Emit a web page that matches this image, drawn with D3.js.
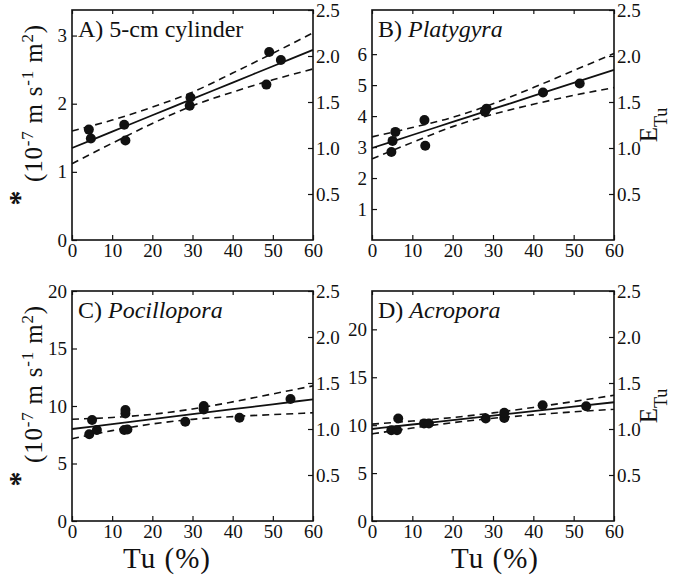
<!DOCTYPE html>
<html>
<head>
<meta charset="utf-8">
<script src="https://cdn.jsdelivr.net/npm/d3@7"></script>
<style>
  body { margin: 0; background: #fff; }
  .tick line { stroke: #111; stroke-width: 1.2; }
</style>
</head>
<body>
<script>
const serif = "'Liberation Serif'";

// Tu (%) grid used for the fit line and the confidence bands
const tuGrid = [0, 10, 20, 30, 40, 50, 60];

// A) 5-cm cylinder
const aTu = [4.2, 4.7, 13.0, 13.3, 29.3, 29.5, 48.4, 49.1, 52.0];
const aVal = [1.62, 1.49, 1.69, 1.46, 1.97, 2.09, 2.28, 2.76, 2.64];
const aFit = [1.35, 1.59, 1.83, 2.07, 2.31, 2.55, 2.79];
const aUpper = [1.60, 1.76, 1.95, 2.17, 2.45, 2.74, 3.04];
const aLower = [1.12, 1.42, 1.71, 1.97, 2.17, 2.35, 2.51];

// B) Platygyra
const bTu = [4.8, 5.1, 5.8, 13.0, 13.2, 28.0, 28.4, 42.4, 51.5];
const bVal = [2.84, 3.20, 3.49, 3.87, 3.04, 4.14, 4.24, 4.76, 5.05];
const bFit = [2.97, 3.39, 3.81, 4.23, 4.65, 5.07, 5.49];
const bUpper = [3.33, 3.63, 3.96, 4.40, 4.92, 5.47, 6.02];
const bLower = [2.62, 3.15, 3.66, 4.06, 4.38, 4.67, 4.92];

// C) Pocillopora
const cTu = [4.3, 5.0, 6.2, 13.0, 13.3, 13.3, 13.8, 28.2, 32.8, 32.8, 41.7, 54.4];
const cVal = [7.54, 8.78, 7.91, 7.91, 9.35, 9.65, 7.95, 8.63, 9.7, 10.0, 8.98, 10.61];
const cFit = [8.0, 8.43, 8.86, 9.29, 9.72, 10.15, 10.58];
const cUpper = [8.85, 9.0, 9.28, 9.74, 10.36, 11.05, 11.75];
const cLower = [7.15, 7.86, 8.44, 8.84, 9.08, 9.25, 9.41];

// D) Acropora
const dTu = [4.8, 6.2, 6.5, 12.9, 14.1, 28.2, 32.8, 32.8, 42.3, 53.1];
const dVal = [9.48, 9.48, 10.70, 10.18, 10.18, 10.70, 10.75, 11.3, 12.08, 11.98];
const dFit = [9.6, 10.07, 10.53, 11.0, 11.46, 11.93, 12.39];
const dUpper = [10.11, 10.43, 10.80, 11.28, 11.85, 12.47, 13.12];
const dLower = [9.09, 9.70, 10.26, 10.72, 11.07, 11.39, 11.66];

// tick labels
const xTicks = [0, 10, 20, 30, 40, 50, 60];
const eTicks = [0.5, 1.0, 1.5, 2.0, 2.5];

const panels = [
  {letter: 'A)', name: '5-cm cylinder', italic: false, tu: aTu, val: aVal, fit: aFit, up: aUpper, lo: aLower,
   yMax: 3.375, yTicks: [0, 1, 2, 3], box: [72, 313, 10, 240], col: 0, row: 0},
  {letter: 'B)', name: 'Platygyra', italic: true, tu: bTu, val: bVal, fit: bFit, up: bUpper, lo: bLower,
   yMax: 7.425, yTicks: [1, 2, 3, 4, 5, 6], box: [372, 614, 10, 240], col: 1, row: 0},
  {letter: 'C)', name: 'Pocillopora', italic: true, tu: cTu, val: cVal, fit: cFit, up: cUpper, lo: cLower,
   yMax: 20, yTicks: [0, 5, 10, 15, 20], box: [72, 313, 291, 521], col: 0, row: 1},
  {letter: 'D)', name: 'Acropora', italic: true, tu: dTu, val: dVal, fit: dFit, up: dUpper, lo: dLower,
   yMax: 24, yTicks: [0, 5, 10, 15, 20], box: [372, 614, 291, 521], col: 1, row: 1}
];

const svg = d3.select('body').append('svg')
  .attr('width', 685)
  .attr('height', 575);

function styleAxis(a) {
  a.attr('font-family', null).attr('font-size', null);
  a.select('.domain').remove();
  a.selectAll('.tick text')
    .style('font-family', serif)
    .style('font-size', '19px')
    .attr('fill', '#111');
}

panels.forEach(p => {
  const [x0, x1, y0, y1] = p.box;
  const x = d3.scaleLinear().domain([0, 60]).range([x0, x1]);
  const y = d3.scaleLinear().domain([0, p.yMax]).range([y1, y0]);
  const e = d3.scaleLinear().domain([0, 2.5]).range([y1, y0]);
  const g = svg.append('g');

  // axes, ticks pointing inward
  g.append('g').attr('transform', `translate(0,${y1})`)
    .call(d3.axisBottom(x).tickValues(xTicks).tickSize(-5).tickPadding(4).tickFormat(d3.format('d')))
    .call(styleAxis);
  g.append('g').attr('transform', `translate(0,${y0})`)
    .call(d3.axisTop(x).tickValues(xTicks).tickSize(-4).tickFormat(''))
    .call(styleAxis);
  g.append('g').attr('transform', `translate(${x0},0)`)
    .call(d3.axisLeft(y).tickValues(p.yTicks).tickSize(-5).tickPadding(5).tickFormat(d3.format('d')))
    .call(styleAxis);
  g.append('g').attr('transform', `translate(${x1},0)`)
    .call(d3.axisRight(e).tickValues(eTicks).tickSize(-5).tickPadding(3).tickFormat(d3.format('.1f')))
    .call(styleAxis);

  g.append('rect')
    .attr('x', x0).attr('y', y0)
    .attr('width', x1 - x0).attr('height', y1 - y0)
    .attr('fill', 'none').attr('stroke', '#111').attr('stroke-width', 1.6);

  const line = d3.line()
    .x((d, i) => x(tuGrid[i]))
    .y(d => y(d))
    .curve(d3.curveMonotoneX);

  [p.up, p.lo].forEach(band => {
    g.append('path')
      .attr('d', line(band))
      .attr('fill', 'none')
      .attr('stroke', '#111')
      .attr('stroke-width', 1.6)
      .attr('stroke-dasharray', '7,5');
  });
  g.append('path')
    .attr('d', line(p.fit))
    .attr('fill', 'none')
    .attr('stroke', '#111')
    .attr('stroke-width', 1.8);

  g.selectAll('circle')
    .data(p.tu)
    .enter()
    .append('circle')
    .attr('cx', d => x(d))
    .attr('cy', (d, i) => y(p.val[i]))
    .attr('r', 5)
    .attr('fill', '#111');

  // panel title
  const t = g.append('text')
    .attr('x', x0 + 6)
    .attr('y', y0 + 27)
    .style('font-family', serif)
    .style('font-size', '24px')
    .attr('fill', '#111');
  t.append('tspan').text(p.letter + ' ');
  t.append('tspan').style('font-style', p.italic ? 'italic' : 'normal').text(p.name);

  // left axis title
  if (p.col === 0) {
    const lab = g.append('text')
      .attr('transform', `translate(42,${y1 - 58}) rotate(-90)`)
      .style('font-family', serif)
      .style('font-size', '25px')
      .style('letter-spacing', '0.8px')
      .attr('fill', '#111');
    lab.append('tspan').text('(10');
    lab.append('tspan').attr('baseline-shift', 'super').style('font-size', '17px').text('-7');
    lab.append('tspan').text(' m s');
    lab.append('tspan').attr('baseline-shift', 'super').style('font-size', '17px').text('-1');
    lab.append('tspan').text(' m');
    lab.append('tspan').attr('baseline-shift', 'super').style('font-size', '17px').text('2');
    lab.append('tspan').text(')');
    g.append('text')
      .attr('transform', `translate(29,${y1 - 42}) rotate(-90)`)
      .attr('text-anchor', 'middle')
      .style('font-family', serif)
      .style('font-size', '30px')
      .style('font-weight', 'bold')
      .attr('fill', '#111')
      .text('*');
  }

  // right axis title
  if (p.col === 1) {
    const lab = g.append('text')
      .attr('transform', `translate(657,${(y0 + y1) / 2}) rotate(-90)`)
      .attr('text-anchor', 'middle')
      .style('font-family', serif)
      .style('font-size', '25px')
      .attr('fill', '#111');
    lab.append('tspan').text('E');
    lab.append('tspan').attr('baseline-shift', 'sub').style('font-size', '18px').text('Tu');
  }

  // x axis title
  if (p.row === 1) {
    g.append('text')
      .attr('x', p.col === 0 ? 167 : 495)
      .attr('y', 568)
      .attr('text-anchor', 'middle')
      .style('font-family', serif)
      .style('font-size', '29px')
      .style('letter-spacing', '1px')
      .attr('fill', '#111')
      .text('Tu (%)');
  }
});
</script>
</body>
</html>
